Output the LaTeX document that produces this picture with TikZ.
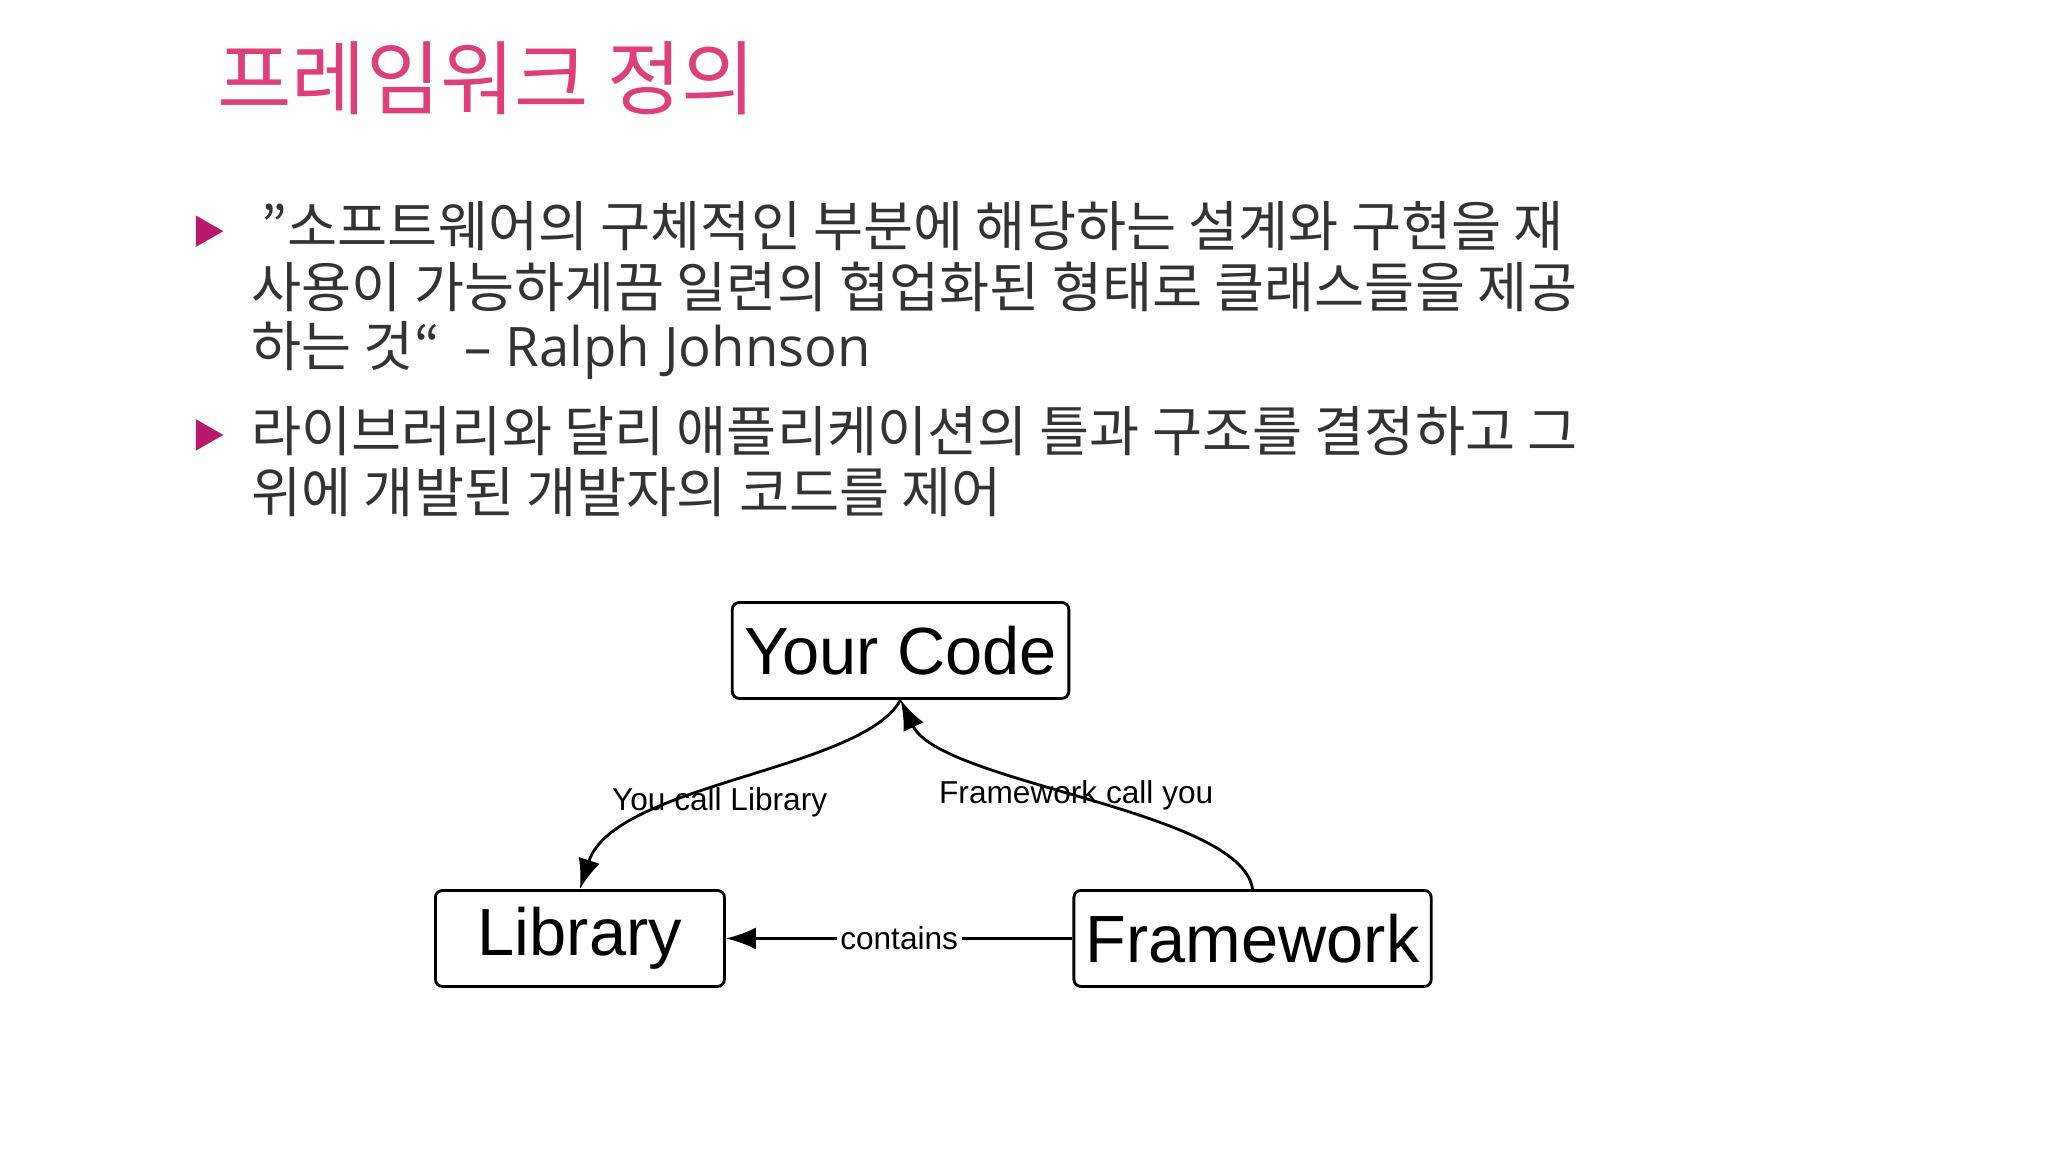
\documentclass[tikz,border=0pt]{standalone}
\usepackage{fontspec}
\setmainfont{Noto Sans CJK KR}
\newfontfamily\latinf{Open Sans}
\newfontfamily\diagf{Liberation Sans}
\usetikzlibrary{arrows.meta}
\definecolor{titlepink}{HTML}{DE3E7C}
\definecolor{bulletc}{HTML}{B8186E}
\definecolor{bodyc}{HTML}{333333}
\tikzset{
  bodytext/.style={anchor=west, inner sep=0pt, text=bodyc, font=\fontsize{15.5pt}{18pt}\selectfont},
  bul/.style={fill=bulletc, draw=none},
  box/.style={draw, thick, rounded corners=2pt, minimum width=2.89cm, minimum height=0.96cm, font=\diagf\fontsize{19pt}{22pt}\selectfont},
  lbl/.style={font=\diagf\fontsize{9pt}{11pt}\selectfont, inner sep=1pt},
  conn/.style={thick, -{Latex[length=3mm,width=2.2mm]}}
}
\begin{document}
\begin{tikzpicture}[x=0.01306cm, y=-0.01306cm]
\useasboundingbox (0,0) rectangle (1568,882);
\node[anchor=west, inner sep=0pt, text=titlepink, font=\fontsize{23pt}{26pt}\selectfont] (title) at (166,60) {프레임워크 정의};
\fill[bul] (150,165) -- (171,177) -- (150,189) -- cycle;
\fill[bul] (150,321) -- (171,333) -- (150,345) -- cycle;
\node[bodytext] (l1) at (200,173) {"소프트웨어의 구체적인 부분에 해당하는 설계와 구현을 재};
\node[bodytext] (l2) at (192,220) {사용이 가능하게끔 일련의 협업화된 형태로 클래스들을 제공};
\node[bodytext] (l3) at (192,268) {하는 것“\ \ {\latinf – Ralph Johnson}};
\node[bodytext] (l4) at (192,330) {라이브러리와 달리 애플리케이션의 틀과 구조를 결정하고 그};
\node[bodytext] (l5) at (192,377) {위에 개발된 개발자의 코드를 제어};
\node[box] (yc) at (689.5,498) {Your Code};
\node[box] (lib) at (444,718.5) {Library};
\node[box] (fw) at (959,718.5) {Framework};
\draw[conn] (yc.south) .. controls (660,590) and (470,600) .. (lib.north);
\draw[conn] (fw.north) .. controls (950,620) and (720,600) .. (yc.south);
\draw[conn] (fw.west) -- node[lbl, fill=white] (lc) {contains} (lib.east);
\node[lbl] (l_you) at (551,614) {You call Library};
\node[lbl] (l_fw) at (824,609) {Framework call you};
\end{tikzpicture}
\end{document}
